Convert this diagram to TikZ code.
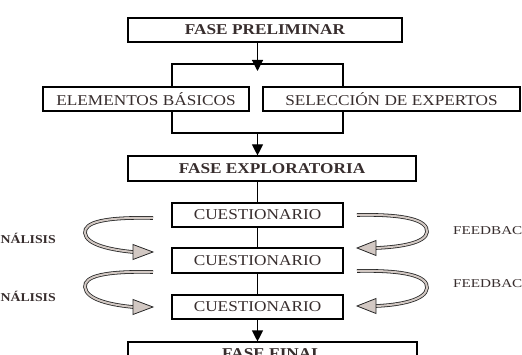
\documentclass[tikz,border=0pt]{standalone}
\usepackage{fontspec}
\usepackage{graphicx}
\setmainfont[FakeStretch=1.15]{Liberation Serif}
\usetikzlibrary{arrows.meta}
\definecolor{txt}{RGB}{55,45,45}
\definecolor{headfill}{RGB}{210,200,195}
\begin{document}
\begin{tikzpicture}[x=1pt,y=-1pt,
 box/.style={draw=black,line width=1.1pt,inner sep=0pt,minimum height=24pt,text=txt,font=\fontsize{15}{15}\selectfont},
 bbox/.style={box,font=\fontsize{15}{15}\selectfont\bfseries},
 conn/.style={line width=1.1pt},
 arr/.style={conn,-{Triangle[width=11pt,length=11pt]}},
 loopband/.style={draw=black!85,line width=0.8pt,double=headfill,double distance=2pt},
 headtri/.style={draw=black!85,line width=0.8pt,fill=headfill,line join=miter},
 side/.style={text=txt,inner sep=0pt}
]
\clip (0,0) rectangle (522,355);
% boxes
\node[bbox,minimum width=274pt] (pre) at (265,30) {FASE PRELIMINAR};
\node[box,minimum width=206pt] (elem) at (146,99) {ELEMENTOS BÁSICOS};
\node[box,minimum width=257pt] (sel) at (391.5,99) {SELECCIÓN DE EXPERTOS};
\node[bbox,minimum width=288pt,minimum height=25pt] (exp) at (272,168.5) {FASE EXPLORATORIA};
\node[box,minimum width=171pt] (c1) at (257.5,215) {CUESTIONARIO};
\node[box,minimum width=171pt,minimum height=25pt] (c2) at (257.5,260.5) {CUESTIONARIO};
\node[box,minimum width=171pt] (c3) at (257.5,307) {CUESTIONARIO};
\node[bbox,minimum width=289pt] (fin) at (272.5,354) {FASE FINAL};
% junction points
\coordinate (bl) at (172,64);
\coordinate (br) at (343,64);
\coordinate (tip1) at (257.5,71);
\coordinate (bl2) at (172,133);
\coordinate (br2) at (343,133);
% connectors
\draw[conn] (elem.north -| bl) -- (bl) -- (br) -- (sel.north -| br);
\draw[arr] (pre.south -| c1.north) -- (tip1);
\draw[conn] (elem.south -| bl2) -- (bl2) -- (br2) -- (sel.south -| br2);
\draw[arr] (bl2 -| c1.north) -- (exp.north -| c1.north);
\draw[conn] (exp.south -| c1.north) -- (c1.north);
\draw[conn] (c1) -- (c2) -- (c3);
\draw[arr] (c3) -- (fin.north -| c3.south);
% curly arrows left
\coordinate (l1s) at (153,218); \coordinate (l1b) at (133,252); \coordinate (l1t) at (153,252);
\coordinate (l2s) at (153,272); \coordinate (l2b) at (133,307); \coordinate (l2t) at (153,307);
\draw[loopband] (l1s) .. controls (105,217) and (84,222) .. (85,233) .. controls (86,245) and (112,250) .. (l1b);
\draw[headtri] (l1t) -- ([yshift=-7.5pt]l1b) -- ([yshift=7.5pt]l1b) -- cycle;
\draw[loopband] (l2s) .. controls (105,271) and (84,276) .. (85,287) .. controls (86,300) and (112,305) .. (l2b);
\draw[headtri] (l2t) -- ([yshift=-7.5pt]l2b) -- ([yshift=7.5pt]l2b) -- cycle;
% curly arrows right
\coordinate (r1s) at (357,215); \coordinate (r1b) at (376,248); \coordinate (r1t) at (357,248);
\coordinate (r2s) at (357,271); \coordinate (r2b) at (376,306); \coordinate (r2t) at (357,306);
\draw[loopband] (r1s) .. controls (405,214) and (428,220) .. (427,232) .. controls (426,243) and (400,247) .. (r1b);
\draw[headtri] (r1t) -- ([yshift=-7.5pt]r1b) -- ([yshift=7.5pt]r1b) -- cycle;
\draw[loopband] (r2s) .. controls (405,270) and (428,276) .. (427,288) .. controls (426,300) and (400,305) .. (r2b);
\draw[headtri] (r2t) -- ([yshift=-7.5pt]r2b) -- ([yshift=7.5pt]r2b) -- cycle;
% side labels
\node[side,anchor=east,font=\fontsize{12}{12}\selectfont\bfseries] (an1) at (56,238.5) {NÁLISIS};
\node[side,anchor=east,font=\fontsize{12}{12}\selectfont\bfseries] (an2) at (56,296) {NÁLISIS};
\node[side,anchor=west] (fb1) at (453,231) {\scalebox{1.1}[1]{\fontsize{12}{12}\selectfont FEEDBAC}};
\node[side,anchor=west] (fb2) at (453,284) {\scalebox{1.1}[1]{\fontsize{12}{12}\selectfont FEEDBAC}};
\end{tikzpicture}
\end{document}
